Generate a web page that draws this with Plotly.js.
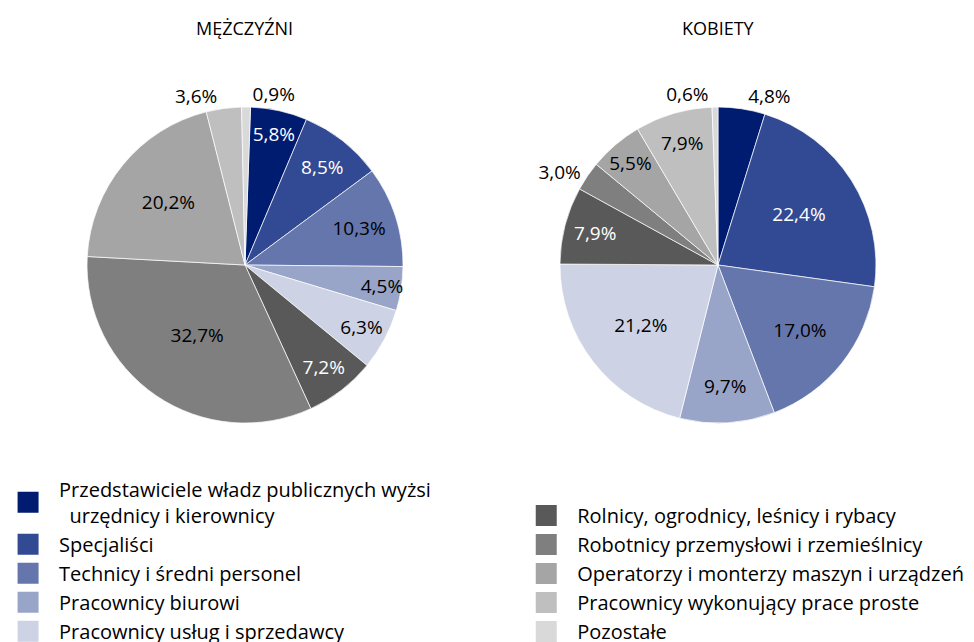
<!DOCTYPE html>
<html>
<head>
<meta charset="utf-8">
<script src="https://cdn.plot.ly/plotly-3.0.1.min.js"></script>
<style>html,body{margin:0;padding:0;background:#fff;}#chart{width:974px;height:642px;}</style>
</head>
<body>
<div id="chart"></div>
<script>
const categories = [
  "Przedstawiciele władz publicznych wyżsi<br>\u00a0 urzędnicy i kierownicy",
  "Specjaliści",
  "Technicy i średni personel",
  "Pracownicy biurowi",
  "Pracownicy usług i sprzedawcy",
  "Rolnicy, ogrodnicy, leśnicy i rybacy",
  "Robotnicy przemysłowi i rzemieślnicy",
  "Operatorzy i monterzy maszyn i urządzeń",
  "Pracownicy wykonujący prace proste",
  "Pozostałe"
];
const menValues   = [5.8, 8.5, 10.3, 4.5, 6.3, 7.2, 32.7, 20.2, 3.6, 0.9];
const womenValues = [4.8, 22.4, 17.0, 9.7, 21.2, 7.9, 3.0, 5.5, 7.9, 0.6];
const colors = ["#001c71", "#314a93", "#6476ab", "#98a5c8", "#cdd2e5",
                "#595959", "#7f7f7f", "#a5a5a5", "#bfbfbf", "#d9d9d9"];
const titles = ["MĘŻCZYŹNI", "KOBIETY"];

const FONT = "'Open Sans', 'Noto Sans', sans-serif";

const menPos   = ["inside","inside","inside","inside","inside","inside","inside","inside","outside","outside"];
const menTxtC  = ["#fff","#fff","#000","#000","#000","#fff","#000","#000","#000","#000"];
const womPos   = ["outside","inside","inside","inside","inside","inside","outside","inside","inside","outside"];
const womTxtC  = ["#000","#fff","#000","#000","#000","#fff","#000","#000","#000","#000"];

function pie(values, domainX, pos, txtColors, rot) {
  return {
    type: "pie",
    labels: categories,
    values: values,
    sort: false,
    direction: "clockwise",
    rotation: rot,
    domain: {x: domainX, y: [0.3411, 0.8333]},
    marker: {colors: colors, line: {color: "#ffffff", width: 0.7}},
    texttemplate: "%{value:.1f}%",
    textposition: pos,
    insidetextorientation: "horizontal",
    insidetextfont: {color: txtColors, size: 19, family: FONT},
    outsidetextfont: {color: "#000", size: 19, family: FONT},
    hoverinfo: "label+value",
    showlegend: false
  };
}

const traces = [
  pie(menValues, [0.0893, 0.4138], menPos, menTxtC, 2),
  pie(womenValues, [0.5749, 0.8994], womPos, womTxtC, 0)
];

categories.forEach((c, i) => {
  traces.push({
    type: "scatter",
    x: [null], y: [null],
    mode: "markers",
    name: c,
    legendgroup: "g" + i,
    legend: i < 5 ? "legend" : "legend2",
    marker: {symbol: "square", size: 16, color: colors[i], line: {color: colors[i], width: 5}},
    showlegend: true,
    hoverinfo: "skip"
  });
});

const legendBase = {
  orientation: "v",
  xanchor: "left",
  yanchor: "top",
  font: {family: FONT, size: 20, color: "#000"},
  itemwidth: 52,
  tracegroupgap: 0,
  bgcolor: "rgba(0,0,0,0)",
  traceorder: "normal",
  itemclick: false,
  itemdoubleclick: false
};

const layout = {
  width: 974,
  height: 642,
  margin: {l: 0, r: 0, t: 0, b: 0, autoexpand: false},
  paper_bgcolor: "#fff",
  plot_bgcolor: "#fff",
  separators: ", ",
  font: {family: FONT, color: "#000"},
  uniformtext: {minsize: 19, mode: "show"},
  xaxis: {visible: false, domain: [0, 0.01]},
  yaxis: {visible: false, domain: [0, 0.01]},
  legend: Object.assign({}, legendBase, {x: -0.003, y: 0.2684}),
  legend2: Object.assign({}, legendBase, {x: 0.529, y: 0.2275}),
  annotations: [
    {text: titles[0], xref: "paper", yref: "paper", x: 245 / 974, y: 1 - 28 / 642,
     xanchor: "center", yanchor: "middle", showarrow: false,
     font: {family: FONT, size: 18, color: "#000"}},
    {text: titles[1], xref: "paper", yref: "paper", x: 718 / 974, y: 1 - 28 / 642,
     xanchor: "center", yanchor: "middle", showarrow: false,
     font: {family: FONT, size: 18, color: "#000"}}
  ]
};

Plotly.newPlot("chart", traces, layout, {displayModeBar: false, staticPlot: true});
</script>
</body>
</html>
